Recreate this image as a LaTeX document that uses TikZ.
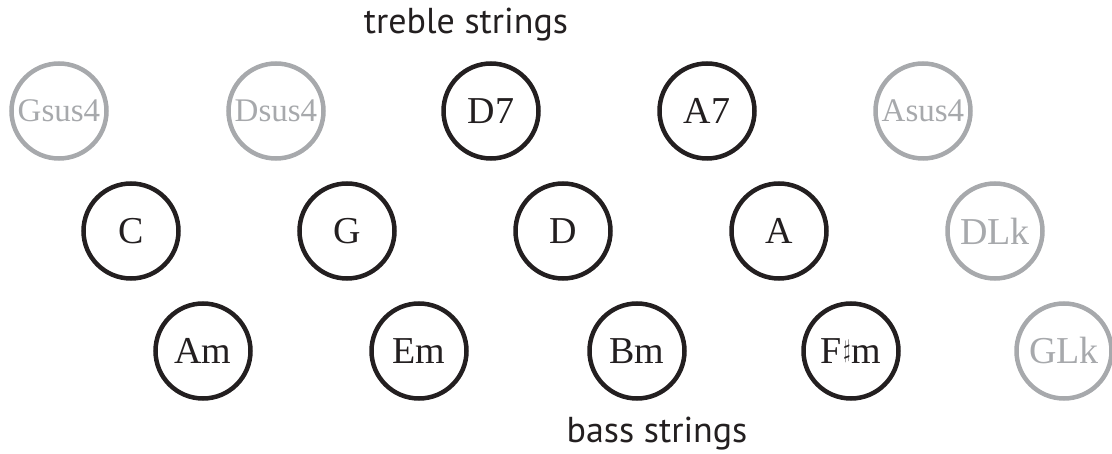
\documentclass[tikz,border=0pt]{standalone}
\usepackage{fontspec}
\setmainfont{Liberation Serif}
\newfontfamily\labelfont{PT Sans}
\usetikzlibrary{positioning}
\definecolor{chordblack}{RGB}{35,31,32}
\definecolor{chordgray}{RGB}{167,169,172}
\tikzset{
	chord/.style={circle, draw=chordblack, text=chordblack, line width=4.5pt,
		minimum size=95pt, inner sep=0pt, font=\fontsize{38}{38}\selectfont},
	extra/.style={chord, draw=chordgray, text=chordgray},
	sus/.style={extra, font=\fontsize{33}{33}\selectfont},
	caption/.style={font=\labelfont\fontsize{36}{36}\selectfont, text=chordblack}
}
\newcommand{\sh}{\kern1.5pt{\fontsize{30}{30}\selectfont\raisebox{0.19em}{\scalebox{0.75}[1]{$\sharp$}}}\kern1pt}

\begin{document}
\begin{tikzpicture}[x=1pt, y=-1pt]
				\useasboundingbox (0,0) rectangle (1112,454);
				% top row
				\node[sus] (gsus) at (59,111) {Gsus4};
				\node[sus] (dsus) at (276,111) {Dsus4};
				\node[chord] (dseven) at (491,111) {D7};
				\node[chord] (aseven) at (707,111) {A7};
				\node[sus] (asus) at (923,111) {Asus4};
				% middle row
				\node[chord] (c) at (131,231) {C};
				\node[chord] (g) at (347,231) {G};
				\node[chord] (d) at (563,231) {D};
				\node[chord] (a) at (779,231) {A};
				\node[extra] (dlk) at (995,231) {DLk};
				% bottom row
				\node[chord] (am) at (203,351) {Am};
				\node[chord] (em) at (419,351) {Em};
				\node[chord] (bm) at (637,351) {Bm};
				\node[chord] (fsm) at (851,351) {F\sh m};
				\node[extra] (glk) at (1064,351) {GLk};
				% strings
				\node[caption] (treble) at (466,25) {treble strings};
				\node[caption] (bass) at (657,434) {bass strings};
			\end{tikzpicture}
\end{document}
